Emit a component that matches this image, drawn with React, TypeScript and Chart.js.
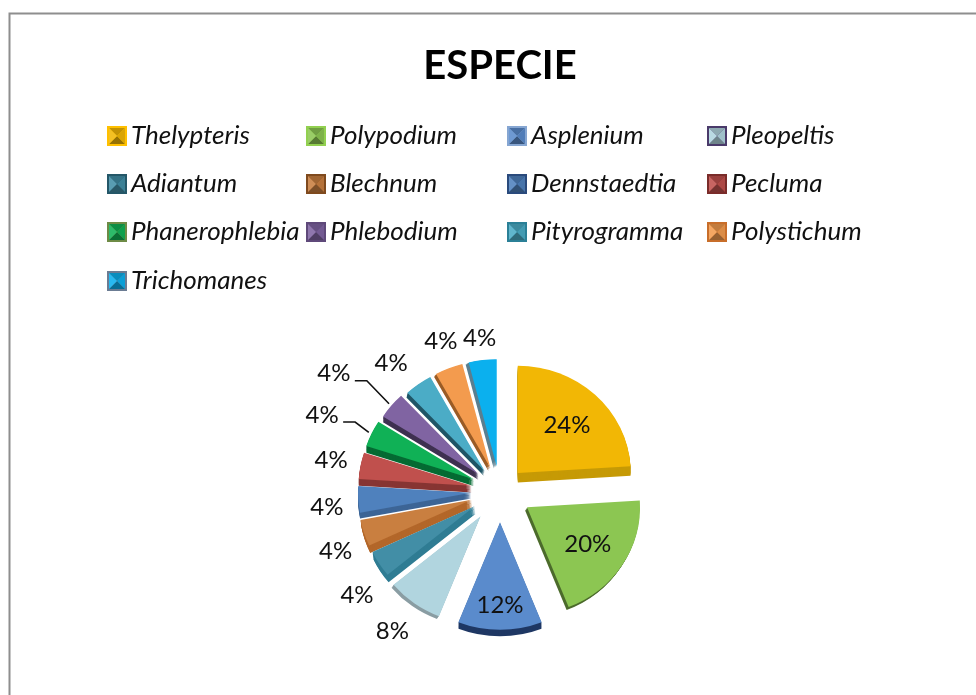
import React, { useEffect, useRef } from "react";
import { Chart, registerables } from "chart.js";

Chart.register(...registerables);

const FONT = "Lato, 'Open Sans', sans-serif";

const chartTitle = "ESPECIE";
const species = ["Thelypteris", "Polypodium", "Asplenium", "Pleopeltis", "Adiantum", "Blechnum", "Dennstaedtia", "Pecluma", "Phanerophlebia", "Phlebodium", "Pityrogramma", "Polystichum", "Trichomanes"];
const shares = [24, 20, 12, 8, 4, 4, 4, 4, 4, 4, 4, 4, 4];

const topColors = ["#F2B705", "#8CC652", "#5A8BCC", "#B1D5DF", "#428EA6", "#C97F40", "#4F81BD", "#C0504D", "#10B156", "#8064A2", "#4BACC6", "#F39B4E", "#0BB0EE"];
const sideColors = ["#C69A06", "#4C6B2C", "#1F3864", "#8A9DA3", "#2F7C93", "#B3672A", "#3D6596", "#873533", "#056B33", "#3F3151", "#1F5566", "#9A5C26", "#5A7F90"];
const edgeColors = ["#FFC000", "#92D050", "#86A6D2", "#4A3A6A", "#245768", "#7F4A1E", "#2A4A7C", "#7A2C2A", "#6E8B46", "#5F497A", "#2B8097", "#C86E2A", "#6B7C93"];

const explode = [26, 32, 33, 33, 30, 30, 29, 29, 29, 28, 26, 26, 26];
const depthX = [0, -2, 0, -2, 1, 1, 0, 0, 0, 0, -1, -2, -3];
const depthY = [10, 3, 7, 3, 8, 8, 6, 7, 7, 6, 5, 3, 2];

const labelRadius = [96, 104, 120, 183, 180, 176, 174, 172, 195, 207, 173, 168, 162];
const labelTurn = [1, 0, 0, 0, -5, -3, -2, 0, -1, -3, -3, 1, 0];
const leaderSlices = [8, 9];

const legendColumns = [107, 306, 507, 707];
const legendRows = [136, 184, 232, 281];
const TILT = 0.95;
const RADIUS = 113;

function shade(hex: string, f: number) {
  const n = parseInt(hex.slice(1), 16);
  const ch = (v: number) => Math.max(0, Math.min(255, Math.round(f <= 1 ? v * f : v + (255 - v) * (f - 1))));
  return `rgb(${ch((n >> 16) & 255)},${ch((n >> 8) & 255)},${ch(n & 255)})`;
}

const pieLook = {
  id: "pieLook",
  afterDatasetsUpdate(chart: any) {
    const { left, right, top, bottom } = chart.chartArea;
    const cx = (left + right) / 2;
    const cy = (top + bottom) / 2;
    chart.getDatasetMeta(0).data.forEach((arc: any, i: number) => {
      const mid = (arc.startAngle + arc.endAngle) / 2;
      arc.x = cx + Math.cos(mid) * explode[i];
      arc.y = cy + Math.sin(mid) * explode[i];
    });
  },
  beforeDraw(chart: any) {
    const ctx = chart.ctx;
    ctx.save();
    ctx.strokeStyle = "#8E8E8E";
    ctx.lineWidth = 2;
    ctx.strokeRect(9.5, 13.5, 1100, 800);
    ctx.restore();
  },
  beforeDatasetsDraw(chart: any) {
    const ctx = chart.ctx;
    const { left, right, top, bottom } = chart.chartArea;
    const cx = (left + right) / 2;
    const cy = (top + bottom) / 2;
    ctx.save();
    ctx.translate(cx, cy);
    ctx.scale(1, TILT);
    ctx.translate(-cx, -cy);
    chart.getDatasetMeta(0).data.forEach((arc: any, i: number) => {
      const saved = arc.options;
      arc.options = { ...saved, backgroundColor: sideColors[i], borderWidth: 0 };
      const steps = Math.max(Math.abs(depthX[i]), depthY[i]);
      for (let s = steps; s >= 1; s--) {
        ctx.save();
        ctx.translate((depthX[i] * s) / steps, (depthY[i] * s) / steps);
        arc.draw(ctx);
        ctx.restore();
      }
      arc.options = saved;
    });
  },
  afterDatasetsDraw(chart: any) {
    chart.ctx.restore();
  },
  afterDraw(chart: any) {
    const ctx = chart.ctx;
    const { left, right, top, bottom } = chart.chartArea;
    const cx = (left + right) / 2;
    const cy = (top + bottom) / 2;
    const arcs = chart.getDatasetMeta(0).data;
    ctx.save();

    // data labels and leader lines
    ctx.textAlign = "center";
    ctx.textBaseline = "middle";
    ctx.font = `24px ${FONT}`;
    arcs.forEach((arc: any, i: number) => {
      const mid = (arc.startAngle + arc.endAngle) / 2 + (labelTurn[i] * Math.PI) / 180;
      const x = cx + Math.cos(mid) * labelRadius[i];
      const y = cy + Math.sin(mid) * labelRadius[i] * TILT;
      ctx.fillStyle = "#111";
      ctx.fillText(`${shares[i]}%`, x, y);
      if (leaderSlices.includes(i)) {
        const a = (arc.startAngle + arc.endAngle) / 2;
        const ex = arc.x + Math.cos(a) * (RADIUS + 3);
        const ey = cy + (arc.y - cy + Math.sin(a) * (RADIUS + 3)) * TILT;
        ctx.strokeStyle = "#111";
        ctx.lineWidth = 1.6;
        ctx.beginPath();
        ctx.moveTo(x + 21, y + 7);
        ctx.lineTo(x + 33, y + 7);
        ctx.lineTo(ex, ey);
        ctx.stroke();
      }
    });

    // legend
    ctx.textAlign = "left";
    ctx.font = `italic 26px ${FONT}`;
    species.forEach((name, i) => {
      const x = legendColumns[i % 4];
      const cyRow = legendRows[Math.floor(i / 4)];
      const y = cyRow - 10;
      const s = 20;
      const m = s / 2;
      const base = topColors[i];
      ctx.fillStyle = edgeColors[i];
      ctx.fillRect(x, y, s, s);
      const tri = (pts: number[][], color: string) => {
        ctx.fillStyle = color;
        ctx.beginPath();
        pts.forEach((p, k) => (k ? ctx.lineTo(x + p[0], y + p[1]) : ctx.moveTo(x + p[0], y + p[1])));
        ctx.closePath();
        ctx.fill();
      };
      const a = 2, b = s - 2;
      tri([[a, a], [b, a], [m, m]], shade(base, 0.8));
      tri([[a, b], [b, b], [m, m]], shade(base, 0.62));
      tri([[a, a], [a, b], [m, m]], shade(base, 1.12));
      tri([[b, a], [b, b], [m, m]], shade(base, 0.9));
      ctx.fillStyle = "#111";
      ctx.fillText(name, x + 24, cyRow);
    });
    ctx.restore();
  },
};

export default function App() {
  const ref = useRef<HTMLCanvasElement>(null);
  useEffect(() => {
    const chart = new Chart(ref.current as HTMLCanvasElement, {
      type: "pie",
      data: {
        labels: species,
        datasets: [{ data: shares, backgroundColor: topColors, borderWidth: 0, radius: RADIUS, clip: false } as any],
      },
      options: {
        animation: false,
        responsive: false,
        layout: { padding: { left: 24, right: 0, top: 0, bottom: 0 } },
        plugins: {
          legend: { display: false },
          tooltip: { enabled: false },
          title: {
            display: true,
            text: chartTitle,
            color: "#000",
            font: { family: FONT, size: 40, weight: "bold", lineHeight: 1.2 },
            padding: { top: 42, bottom: 197 },
          },
        },
      } as any,
      plugins: [pieLook as any],
    });
    return () => chart.destroy();
  }, []);
  return (
    <div style={{ position: "fixed", left: 0, top: 0, width: 976, height: 695, background: "#fff" }}>
      <canvas ref={ref} width={976} height={695} style={{ display: "block" }} />
    </div>
  );
}
